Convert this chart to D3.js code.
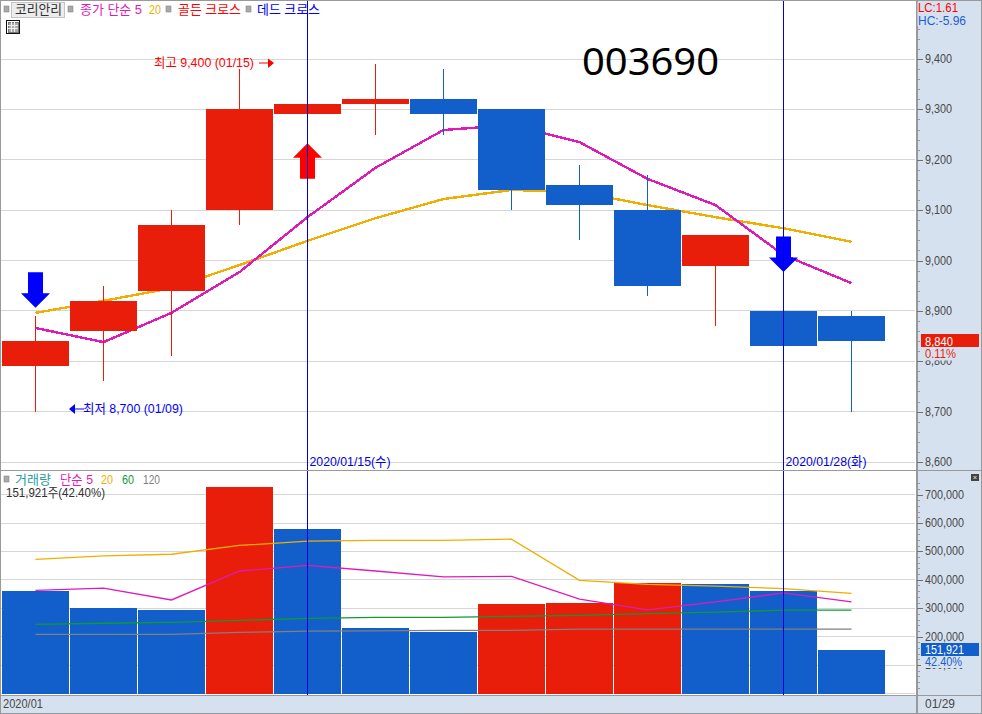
<!DOCTYPE html>
<html><head><meta charset="utf-8">
<script src="https://cdn.jsdelivr.net/npm/d3@7"></script>
<style>
html,body{margin:0;padding:0;background:#fff;overflow:hidden}
svg{display:block}
text{font-family:"Liberation Sans","Noto Sans CJK KR",sans-serif;font-size:13px}
</style></head><body><svg id="c" width="982" height="714"></svg>
<script>
const dates=["01/09","01/10","01/13","01/14","01/15","01/16","01/17","01/20","01/21","01/22","01/23","01/28","01/29"];
const open =[8790,8860,8940,9100,9290,9310,9320,9300,9150,9100,8990,8900,8890];
const close=[8840,8920,9070,9300,9310,9320,9290,9140,9110,8950,9050,8830,8840];
const high =[8890,8950,9100,9380,9310,9390,9380,9300,9190,9170,9050,8900,8900];
const low  =[8700,8760,8810,9070,9290,9250,9250,9100,9040,8930,8870,8830,8700];
const priceMA5 =[8866,8838,8896,8977,9086,9184,9259,9269,9235,9162,9110,9011,8955];
const priceMA20=[8896,8920,8945,8991,9039,9084,9122,9140,9136,9110,9086,9064,9037];
const volume=[361000,301000,294000,727000,580000,231000,217000,315000,319000,389000,386000,361000,151921];
const volUp =[0,0,0,1,0,0,0,1,1,1,0,0,0];
const volMA5 =[363000,371000,329000,431000,451000,431000,410000,412000,332000,294000,322000,354000,322000];
const volMA20=[472000,484000,490000,521000,536000,539000,539000,543000,398000,384000,378000,369000,352000];
const volMA60=[243000,247000,250000,257000,264000,268000,268000,271000,275000,281000,286000,293000,293000];
const volMA120=[208000,208000,208000,215000,219000,220000,222000,222000,226000,226000,226000,226000,226000];
const priceTicks=[8600,8700,8800,8900,9000,9100,9200,9300,9400];
const volTicks=[100000,200000,300000,400000,500000,600000,700000];
const crossDates=["01/15","01/28"];
const crossLabels=["2020/01/15(수)","2020/01/28(화)"];
const goldenCross=[{date:"01/15",tip:9233}];
const deadCross=[{date:"01/09",tip:8906},{date:"01/28",tip:8977}];

const RED="#e81d0a",BLUE="#125fcb",MAG="#e01ab8",ORG="#f0ae00",GRN="#109a35",GRY="#808080",GRID="#d6d6d6",AXBG="#d6e1ef",BORDER="#999",TXT="#484848";
const svg=d3.select("#c");
const x=d3.scaleBand().domain(dates).range([2,885]).paddingInner(1/68);
const cx=d=>x(d)+33.5;
const yP=d3.scaleLinear().domain([8600,9400]).range([462,59]);
const yV=d3.scaleLinear().domain([0,700000]).range([693.4,494.6]);

function txt(g,px,py,s,color,w,extra){
  const t=g.append("text").attr("x",px).attr("y",py).attr("fill",color).text(s);
  if(w) t.attr("textLength",w).attr("lengthAdjust","spacingAndGlyphs");
  if(extra) extra(t);
  return t;
}
// backgrounds
svg.append("rect").attr("x",0).attr("y",0).attr("width",982).attr("height",714).attr("fill","#fff");
svg.append("rect").attr("x",917).attr("y",0).attr("width",65).attr("height",714).attr("fill",AXBG);
svg.append("rect").attr("x",0).attr("y",695).attr("width",982).attr("height",19).attr("fill",AXBG);

// grid
const grid=svg.append("g").attr("shape-rendering","crispEdges").attr("stroke",GRID);
grid.selectAll(".gp").data(priceTicks).join("line").attr("x1",1).attr("x2",915).attr("y1",d=>yP(d)).attr("y2",d=>yP(d));
grid.selectAll(".gv").data([0].concat(volTicks)).join("line").attr("x1",1).attr("x2",915).attr("y1",d=>yV(d)).attr("y2",d=>yV(d));

// price MAs (behind candles)
const lineP=d3.line().x((d,i)=>cx(dates[i])).y(d=>yP(d));
const lineV=d3.line().x((d,i)=>cx(dates[i])).y(d=>yV(d));
const maP=svg.append("g").attr("fill","none").attr("shape-rendering","crispEdges");
maP.append("path").attr("d",lineP(priceMA20)).attr("stroke",ORG).attr("stroke-width",2.4);
maP.append("path").attr("d",lineP(priceMA5)).attr("stroke",MAG).attr("stroke-width",2.4);

// candles
const idx=d3.range(dates.length);
const cs=svg.append("g").attr("shape-rendering","crispEdges");
const col=i=>close[i]>=open[i]?RED:BLUE;
cs.selectAll("line").data(idx).join("line")
  .attr("x1",i=>cx(dates[i])).attr("x2",i=>cx(dates[i]))
  .attr("y1",i=>yP(high[i])).attr("y2",i=>yP(low[i])).attr("stroke",col);
cs.selectAll("rect").data(idx).join("rect")
  .attr("x",i=>x(dates[i])).attr("width",x.bandwidth())
  .attr("y",i=>yP(Math.max(open[i],close[i])))
  .attr("height",i=>Math.abs(yP(open[i])-yP(close[i]))).attr("fill",col);

// cross arrows
const arrows=svg.append("g");
const arrow=(dir)=>`M-7.5,${-dir*35.5}L7.5,${-dir*35.5}L7.5,${-dir*14.5}L14.5,${-dir*14.5}L0,0L-14.5,${-dir*14.5}L-7.5,${-dir*14.5}Z`;
arrows.selectAll(".d").data(deadCross).join("path").attr("fill","#0000ff")
  .attr("transform",d=>`translate(${cx(d.date)},${yP(d.tip)})`).attr("d",arrow(1));
arrows.selectAll(".g").data(goldenCross).join("path").attr("fill","#ff0000")
  .attr("transform",d=>`translate(${cx(d.date)},${yP(d.tip)})`).attr("d",arrow(-1));

// volume bars
const vb=svg.append("g").attr("shape-rendering","crispEdges");
vb.selectAll("rect").data(idx).join("rect")
  .attr("x",i=>x(dates[i])).attr("width",x.bandwidth())
  .attr("y",i=>yV(volume[i])).attr("height",i=>yV(0)-yV(volume[i])+0.6)
  .attr("fill",i=>volUp[i]?RED:BLUE);
const maV=svg.append("g").attr("fill","none").attr("stroke-width",1.3);
[[volMA120,GRY],[volMA60,GRN],[volMA20,ORG],[volMA5,MAG]].forEach(([a,c])=>
  maV.append("path").attr("d",lineV(a)).attr("stroke",c));

// cross lines
const cl=svg.append("g");
cl.selectAll("line").data(crossDates).join("line").attr("shape-rendering","crispEdges")
  .attr("x1",cx).attr("x2",cx).attr("y1",0).attr("y2",695).attr("stroke","#0000d8");
crossDates.forEach((d,i)=>txt(cl,cx(d)+2,466,crossLabels[i],"#0000e0",81));

// frame
const fr=svg.append("g").attr("shape-rendering","crispEdges").attr("stroke",BORDER).attr("fill","none");
fr.append("rect").attr("x",0.5).attr("y",0.5).attr("width",981).attr("height",713);
fr.append("line").attr("x1",0).attr("x2",982).attr("y1",470.5).attr("y2",470.5);
fr.append("line").attr("x1",0).attr("x2",982).attr("y1",695.5).attr("y2",695.5);
fr.append("line").attr("x1",916.5).attr("x2",916.5).attr("y1",0).attr("y2",714).attr("stroke-width",2);

// axes
function axis(scale,major,minor){
  const g=svg.append("g").attr("transform","translate(917,0)");
  const a=g.append("g").call(d3.axisRight(scale).tickValues(major).tickFormat(d3.format(",")).tickSize(6).tickPadding(2));
  a.select(".domain").remove();
  a.selectAll("line").attr("stroke","#707070").attr("shape-rendering","crispEdges");
  a.selectAll("text").attr("fill",TXT).style("font-size","13px").attr("dy","0.27em")
    .each(function(){const t=d3.select(this);t.attr("textLength",this.getComputedTextLength()*0.83).attr("lengthAdjust","spacingAndGlyphs");});
  const m=g.append("g").call(d3.axisRight(scale).tickValues(minor).tickFormat("").tickSize(3));
  m.select(".domain").remove();
  m.selectAll("line").attr("stroke","#999").attr("shape-rendering","crispEdges");
}
axis(yP,priceTicks,d3.range(8600,9541,20).filter(v=>v%100));
axis(yV,volTicks,d3.range(20000,740001,20000).filter(v=>v%100000));

// right-hand tags
const tags=svg.append("g");
tags.append("rect").attr("x",917.5).attr("y",2).attr("width",62).attr("height",24).attr("fill",AXBG);
txt(tags,918,12,"LC:1.61","#ff0000",40);
txt(tags,918,25,"HC:-5.96","#1a5fd0",48);
tags.append("rect").attr("x",921).attr("y",yP(close[12])-7).attr("width",58).attr("height",13).attr("fill",RED).attr("shape-rendering","crispEdges");
txt(tags,925,yP(close[12])+5,d3.format(",")(close[12]),"#fff",28);
tags.append("rect").attr("x",921).attr("y",347).attr("width",58).attr("height",13.5).attr("fill",AXBG);
txt(tags,925,358,"0.11%",RED,31);
tags.append("rect").attr("x",921).attr("y",643).attr("width",58).attr("height",13).attr("fill",BLUE).attr("shape-rendering","crispEdges");
txt(tags,925,654,d3.format(",")(volume[12]),"#fff",39);
tags.append("rect").attr("x",921).attr("y",656).attr("width",58).attr("height",12).attr("fill",AXBG);
txt(tags,925,666,"42.40%","#1a5fd0",37);
tags.append("rect").attr("x",971).attr("y",474).attr("width",8).attr("height",7).attr("fill","#444");
tags.append("path").attr("d","M973.5,476L976.5,479M976.5,476L973.5,479").attr("stroke","#ddd").attr("fill","none");

// header
const h=svg.append("g");
const sq=(px,py)=>h.append("rect").attr("x",px).attr("y",py).attr("width",5).attr("height",6).attr("fill","#a8a8a8").attr("stroke","#888").attr("stroke-width",0.6);
sq(4,6);
h.append("rect").attr("x",11.5).attr("y",2.5).attr("width",53).attr("height",15).attr("fill","#ececec").attr("stroke","#c4c4c4");
txt(h,15,14,"코리안리","#303030",47);
sq(68,6);
txt(h,80,14,"종가 단순 5",MAG,62);
txt(h,149,14,"20",ORG,12);
sq(166,6);
txt(h,178,14,"골든 크로스","#ff0000",63);
sq(246,6);
txt(h,257,14,"데드 크로스","#0000ff",63);
const ic=h.append("g").attr("shape-rendering","crispEdges");
ic.append("rect").attr("x",6.5).attr("y",20.5).attr("width",13).attr("height",13).attr("fill","#fff").attr("stroke","#111");
ic.append("rect").attr("x",8).attr("y",22).attr("width",10).attr("height",10).attr("fill","#aaa").attr("stroke","#777");
ic.append("path").attr("d","M11.5,22V32M14.5,22V32M8,25.5H18M8,28.5H18").attr("stroke","#eee");

// title + min/max annotations
svg.append("text").attr("x",582).attr("y",75).attr("fill","#000").text("003690")
  .style("font-family",'"Noto Sans",sans-serif').style("font-size","38px").attr("textLength",137).attr("lengthAdjust","spacingAndGlyphs");
const an=svg.append("g");
txt(an,154,67,"최고 9,400 (01/15)","#ff0000",100);
an.append("path").attr("d","M259,63H269").attr("stroke","#ff0000").attr("stroke-width",1);
an.append("path").attr("d","M268,58.5L274,63L268,68Z").attr("fill","#ff0000");
txt(an,83,413,"최저 8,700 (01/09)","#0000ff",100);
an.append("path").attr("d","M74,409H84").attr("stroke","#0000ff");
an.append("path").attr("d","M75,404L69,409L75,414Z").attr("fill","#0000ff");

// volume header
const v=svg.append("g");
v.append("rect").attr("x",4).attr("y",476).attr("width",5).attr("height",6).attr("fill","#a8a8a8").attr("stroke","#888").attr("stroke-width",0.6);
txt(v,15,484,"거래량","#2a9d9d",36);
txt(v,60,484,"단순 5",MAG,33);
txt(v,101,484,"20",ORG,12);
txt(v,122,484,"60",GRN,12);
txt(v,143,484,"120",GRY,17);
txt(v,6,497,"151,921주(42.40%)","#303030",99);

// bottom axis
const b=svg.append("g");
txt(b,3,708,"2020/01",TXT,40);
txt(b,925,708,dates[12],TXT,30);
</script></body></html>
